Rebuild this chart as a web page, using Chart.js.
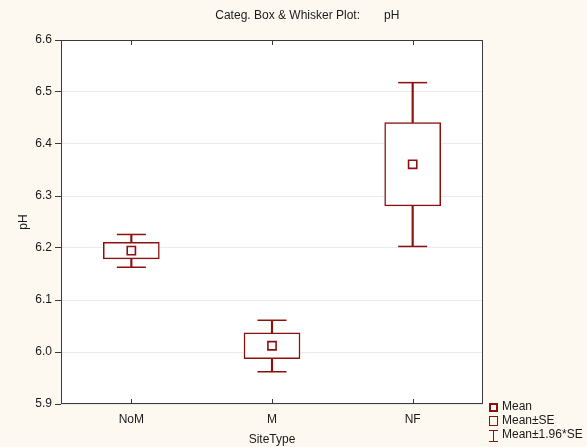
<!DOCTYPE html>
<html>
<head>
<meta charset="utf-8">
<script src="https://cdn.jsdelivr.net/npm/chart.js@4.4.0/dist/chart.umd.min.js"></script>
<style>
html,body{margin:0;padding:0;background:#fdf9f0;}
canvas{display:block;}
</style>
</head>
<body>
<canvas id="myChart" width="587" height="447"></canvas>
<script>
// values
var categories = ['NoM', 'M', 'NF'];
var means  = [6.195, 6.012, 6.361];
var seLow  = [6.179, 5.987, 6.281];
var seHigh = [6.211, 6.037, 6.441];
var ciLow  = [6.163, 5.962, 6.203];
var ciHigh = [6.226, 6.061, 6.518];
var yTicks = [5.9, 6.0, 6.1, 6.2, 6.3, 6.4, 6.5, 6.6];
var legendLabels = ['Mean', 'Mean±SE', 'Mean±1.96*SE'];
var titleParts = ['Categ. Box & Whisker Plot:', 'pH'];

var red = '#8c1010';
var ink = '#1a1a1a';
var frame = '#3a3a3a';

Chart.defaults.font.family = "'Liberation Sans', Arial, sans-serif";
Chart.defaults.font.size = 12;
Chart.defaults.color = ink;

var boxes = [];
var stems = [];
for (var i = 0; i < categories.length; i++) {
	boxes.push([seLow[i], seHigh[i]]);
	stems.push([ciLow[i], ciHigh[i]]);
}

var decor = {
	id: 'decor',
	beforeDraw: function(chart) {
		var ctx = chart.ctx, a = chart.chartArea;
		ctx.save();
		ctx.fillStyle = '#fdf9f0';
		ctx.fillRect(0, 0, chart.width, chart.height);
		ctx.fillStyle = '#ffffff';
		ctx.fillRect(a.left, a.top, a.right - a.left, a.bottom - a.top);
		ctx.restore();
	},
	afterDraw: function(chart) {
		var ctx = chart.ctx, a = chart.chartArea, xs = chart.scales.x;
		ctx.save();
		// frame
		ctx.strokeStyle = frame;
		ctx.lineWidth = 1;
		ctx.strokeRect(a.left + 0.5, a.top + 0.5, a.right - a.left - 1, a.bottom - a.top - 1);
		// inward ticks top and bottom
		ctx.beginPath();
		for (var i = 0; i < categories.length; i++) {
			var px = Math.round(xs.getPixelForValue(i)) + 0.5;
			ctx.moveTo(px, a.top); ctx.lineTo(px, a.top + 5);
			ctx.moveTo(px, a.bottom); ctx.lineTo(px, a.bottom - 5);
		}
		ctx.stroke();
		// title
		ctx.fillStyle = ink;
		ctx.font = "12px 'Liberation Sans', Arial, sans-serif";
		ctx.textBaseline = 'middle';
		ctx.textAlign = 'right';
		ctx.fillText(titleParts[0], 360, 16);
		ctx.textAlign = 'left';
		ctx.fillText(titleParts[1], 384, 16);
		// legend
		var lx = 489, ly = 407, step = 14;
		ctx.strokeStyle = red;
		ctx.lineWidth = 2;
		ctx.strokeRect(lx + 1, ly - 3, 7, 7);
		ctx.lineWidth = 1;
		ctx.strokeRect(lx + 0.5, ly + step - 4.5, 8, 9);
		ctx.beginPath();
		var iy = ly + 2 * step;
		ctx.moveTo(lx + 4.5, iy - 5); ctx.lineTo(lx + 4.5, iy + 6);
		ctx.moveTo(lx, iy - 4.5); ctx.lineTo(lx + 9, iy - 4.5);
		ctx.moveTo(lx, iy + 6.5); ctx.lineTo(lx + 9, iy + 6.5);
		ctx.stroke();
		ctx.fillStyle = ink;
		for (var k = 0; k < legendLabels.length; k++) {
			ctx.fillText(legendLabels[k], lx + 13, ly + k * step);
		}
		ctx.restore();
	}
};

var ctx = document.getElementById('myChart').getContext('2d');
var myChart = new Chart(ctx, {
	type: 'bar',
	data: {
		labels: categories,
		datasets: [
			{
				type: 'line',
				label: 'Mean',
				data: means,
				showLine: false,
				pointStyle: 'rect',
				pointRadius: 5.8,
				pointBorderWidth: 1.6,
				pointBorderColor: red,
				pointBackgroundColor: '#ffffff',
				order: 0
			},
			{
				label: 'Mean±SE',
				data: boxes,
				grouped: false,
				barThickness: 56,
				borderWidth: 1.5,
				borderColor: red,
				borderSkipped: false,
				backgroundColor: '#ffffff',
				order: 1
			},
			{
				label: 'stem',
				data: stems,
				grouped: false,
				barThickness: 1.5,
				borderWidth: 0,
				backgroundColor: red,
				order: 2
			},
			{
				type: 'line',
				label: 'capHigh',
				data: ciHigh,
				showLine: false,
				pointStyle: 'line',
				pointRadius: 14.5,
				pointBorderWidth: 1.5,
				pointBorderColor: red,
				order: 3
			},
			{
				type: 'line',
				label: 'capLow',
				data: ciLow,
				showLine: false,
				pointStyle: 'line',
				pointRadius: 14.5,
				pointBorderWidth: 1.5,
				pointBorderColor: red,
				order: 3
			}
		]
	},
	options: {
		responsive: false,
		animation: false,
		events: [],
		layout: { padding: { top: 40, right: 104, left: 0, bottom: 0 } },
		plugins: {
			legend: { display: false },
			tooltip: { enabled: false },
			title: { display: false }
		},
		scales: {
			x: {
				type: 'category',
				offset: true,
				grid: { display: false },
				border: { display: false },
				ticks: { padding: 0, color: ink },
				title: { display: true, text: 'SiteType', color: ink, padding: { top: 0, bottom: 0 } },
				afterFit: function(s) { s.height = 43; }
			},
			y: {
				min: 5.9,
				max: 6.6,
				afterBuildTicks: function(s) {
					s.ticks = yTicks.map(function(v) { return { value: v }; });
				},
				ticks: {
					padding: 3,
					color: ink,
					callback: function(v) { return Number(v).toFixed(1); }
				},
				grid: { color: '#ebebeb', tickColor: frame, tickLength: 6 },
				border: { display: false },
				title: { display: true, text: 'pH', color: ink, padding: { top: 16, bottom: 0 } },
				afterFit: function(s) { s.width = 61; }
			}
		}
	},
	plugins: [decor]
});
</script>
</body>
</html>
